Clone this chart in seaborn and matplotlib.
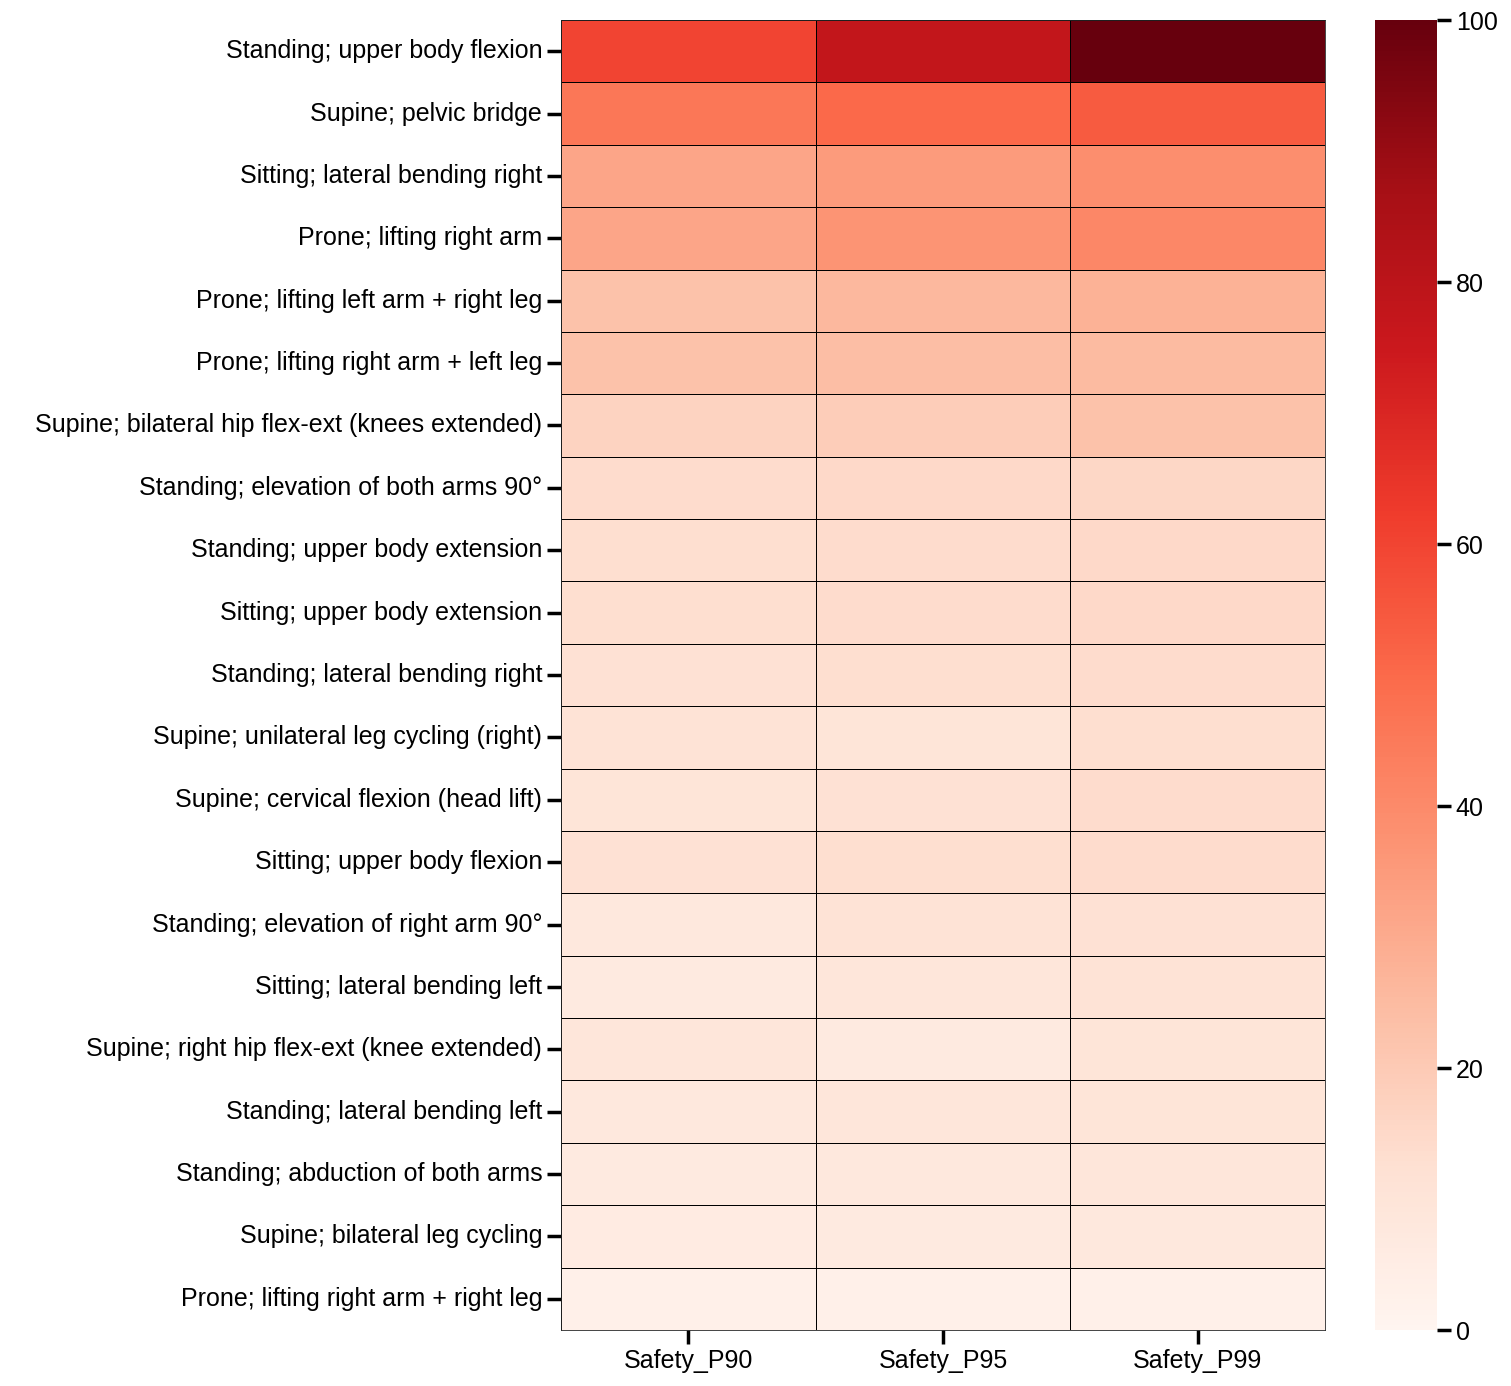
import numpy as np
import pandas as pd
import matplotlib
matplotlib.use("Agg")
import matplotlib.pyplot as plt
import seaborn as sns

exercises = [
    "Standing; upper body flexion",
    "Supine; pelvic bridge",
    "Sitting; lateral bending right",
    "Prone; lifting right arm",
    "Prone; lifting left arm + right leg",
    "Prone; lifting right arm + left leg",
    "Supine; bilateral hip flex-ext (knees extended)",
    "Standing; elevation of both arms 90°",
    "Standing; upper body extension",
    "Sitting; upper body extension",
    "Standing; lateral bending right",
    "Supine; unilateral leg cycling (right)",
    "Supine; cervical flexion (head lift)",
    "Sitting; upper body flexion",
    "Standing; elevation of right arm 90°",
    "Sitting; lateral bending left",
    "Supine; right hip flex-ext (knee extended)",
    "Standing; lateral bending left",
    "Standing; abduction of both arms",
    "Supine; bilateral leg cycling",
    "Prone; lifting right arm + right leg",
]
columns = ["Safety_P90", "Safety_P95", "Safety_P99"]

p90 = [60, 46, 32, 32, 23, 23, 17, 14, 13, 13, 12, 11, 10, 12, 8, 7, 9, 8, 7, 6, 3]
p95 = [78, 50, 35, 37, 26, 24, 19, 15, 14, 14, 13, 10, 12, 13, 11, 9, 7, 9, 8, 7, 3]
p99 = [100, 54, 39, 41, 28, 25, 23, 16, 15, 15, 14, 13, 14, 14, 12, 11, 10, 10, 9, 8, 3]

df = pd.DataFrame({"Safety_P90": p90, "Safety_P95": p95, "Safety_P99": p99}, index=exercises)

sns.set_style("ticks")
plt.rcParams['font.family'] = ['Liberation Sans', 'DejaVu Sans']

fig = plt.figure(figsize=(15.11, 13.86), dpi=100)
ax = fig.add_axes([561 / 1511, 56 / 1386, 764 / 1511, 1310 / 1386])
cax = fig.add_axes([1375 / 1511, 56 / 1386, 62 / 1511, 1310 / 1386])

sns.heatmap(df, cmap="Reds", vmin=0, vmax=100, linewidths=0.6, linecolor="black",
            ax=ax, cbar_ax=cax)

ax.tick_params(axis="both", labelsize=18, length=10, width=2.5, direction="out",
               colors="black")
ax.set_yticklabels(exercises, rotation=0)
ax.set_xticklabels(columns, rotation=0)
for s in ax.spines.values():
    s.set_visible(True)
    s.set_linewidth(0.6)
cax.tick_params(labelsize=18, length=10, width=2.5, colors="black")
cax.set_yticks([0, 20, 40, 60, 80, 100])

fig.savefig("out.png", dpi=100)
